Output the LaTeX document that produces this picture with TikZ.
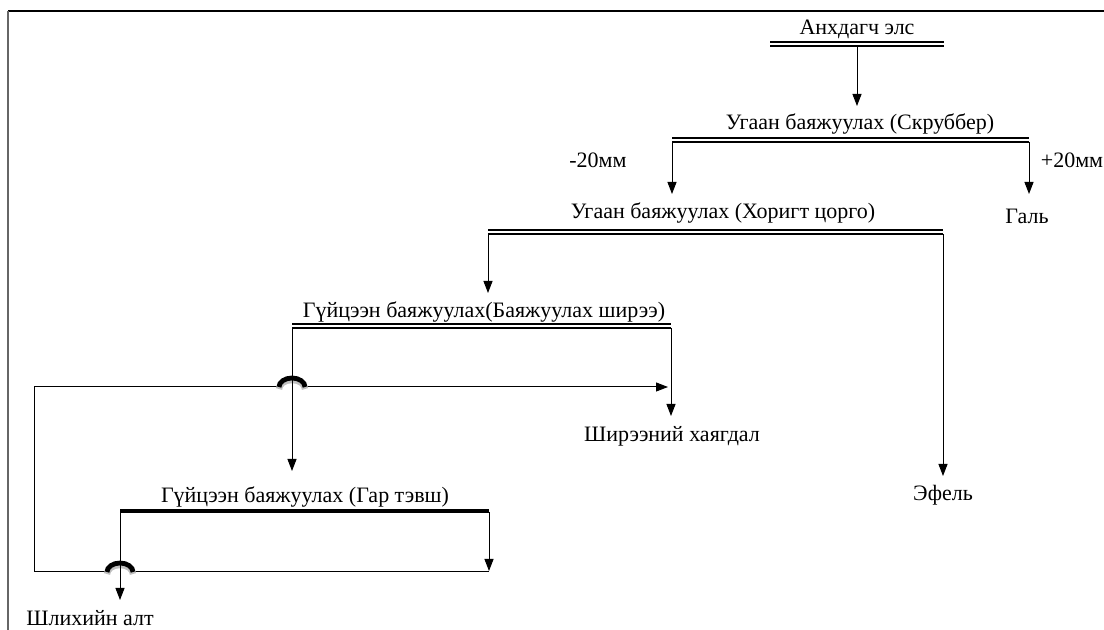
\documentclass[tikz,border=0pt]{standalone}
\usepackage{fontspec}
\setmainfont{Liberation Serif}
\usetikzlibrary{arrows.meta}
\tikzset{
	lbl/.style={inner sep=0pt, font=\fontsize{11}{13}\selectfont},
	bar/.style={double, double distance=0.8pt, line width=0.9pt},
	flow/.style={line width=0.5pt, -{Triangle[length=6pt,width=4.5pt]}},
	wire/.style={line width=0.5pt},
	hop/.style={line width=2.4pt}
}

\begin{document}
\begin{tikzpicture}[x=0.5pt, y=-0.5pt]
		%%%%% START %%%%%
		\useasboundingbox (0, 0) rectangle (1104, 630);
		
		% frame
		\draw[line width=0.8pt] (8, 11) -- (1104, 11);
		\draw[line width=0.9pt, color=black!60] (8, 11) -- (8, 630);
		
		% stages
		\node[lbl] (src) at (857, 29) {Анхдагч элс};
		\draw[bar] (770, 44) -- (944, 44);
		\coordinate (srcout) at (857, 46);
		
		\node[lbl] (scrub) at (860, 124) {Угаан баяжуулах (Скруббер)};
		\draw[bar] (672, 140) -- (1029, 140);
		\coordinate (scrubL) at (672, 142);
		\coordinate (scrubR) at (1029, 142);
		
		\node[lbl] (sluice) at (723, 213) {Угаан баяжуулах (Хоригт цорго)};
		\draw[bar] (488, 232) -- (943, 232);
		\coordinate (sluiceL) at (488, 234);
		\coordinate (sluiceR) at (943, 234);
		
		\node[lbl] (table) at (484, 312) {Гүйцээн баяжуулах(Баяжуулах ширээ)};
		\draw[bar] (292, 326) -- (671, 326);
		\coordinate (tableL) at (292, 328);
		\coordinate (tableR) at (671, 328);
		
		\node[lbl] (pan) at (305, 497) {Гүйцээн баяжуулах (Гар тэвш)};
		\draw[line width=1.8pt] (120, 511) -- (489, 511);
		\coordinate (panL) at (120, 512);
		\coordinate (panR) at (489, 512);
		
		% products
		\node[lbl] (minus) at (598, 160) {-20мм};
		\node[lbl] (plus) at (1072, 160) {+20мм};
		\node[lbl] (gravel) at (1027, 216) {Галь};
		\node[lbl] (efel) at (943, 495) {Эфель};
		\node[lbl] (tail) at (672, 436) {Ширээний хаягдал};
		\node[lbl] (gold) at (90, 618) {Шлихийн алт};
		
		% flows
		\draw[flow] (srcout) -- (857, 106);
		\draw[flow] (scrubL) -- (672, 194);
		\draw[flow] (scrubR) -- (1029, 194);
		\draw[flow] (sluiceL) -- (488, 293);
		\draw[flow] (sluiceR) -- (943, 476);
		\draw[flow] (tableR) -- (671, 416);
		\draw[flow] (tableL) -- (292, 471);
		\draw[flow] (panR) -- (489, 571);
		\draw[flow] (panL) -- (120, 600);
		
		% return line
		\coordinate (ret1) at (489, 572);
		\coordinate (ret2) at (34, 572);
		\coordinate (ret3) at (34, 387);
		\draw[wire] (ret1) -- (133, 572);
		\draw[wire] (107, 572) -- (ret2) -- (ret3) -- (279, 387);
		\draw[flow] (305, 387) -- (668, 387);
		
		% hops
		\draw[hop, color=black!25, line width=3.2pt] (107, 574) arc[start angle=180, end angle=360, x radius=13, y radius=9];
		\draw[hop] (107, 572) arc[start angle=180, end angle=360, x radius=13, y radius=9];
		\draw[hop, color=black!25, line width=3.2pt] (279, 389) arc[start angle=180, end angle=360, x radius=13, y radius=9];
		\draw[hop] (279, 387) arc[start angle=180, end angle=360, x radius=13, y radius=9];
		\draw[wire] (292, 370) -- (292, 400);
		\draw[wire] (120, 555) -- (120, 585);
		
		%%%%% END %%%%%
	\end{tikzpicture}
\end{document}
